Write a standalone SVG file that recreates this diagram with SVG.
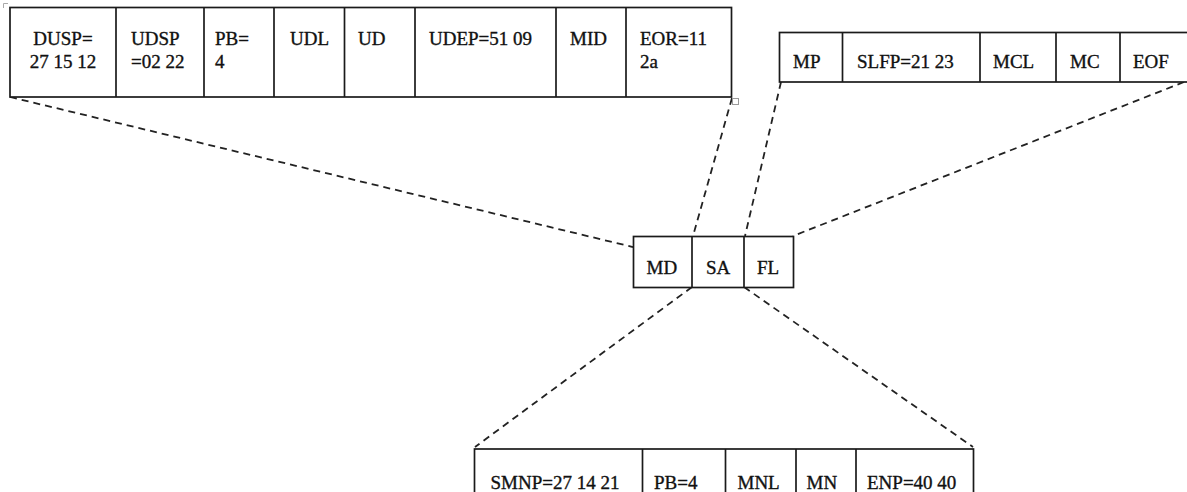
<svg xmlns="http://www.w3.org/2000/svg" width="1187" height="492" viewBox="0 0 1187 492">
<style>
.box{fill:#fff;stroke:#1a1a1a;stroke-width:1.7}
.div{stroke:#1a1a1a;stroke-width:1.7}
.t{font-family:'Liberation Serif','Times New Roman','DejaVu Serif',serif;font-size:19px;fill:#111;stroke:#111;stroke-width:0.35}
.dash{stroke:#222;stroke-width:1.8;stroke-dasharray:7 5;fill:none}
.handle{fill:#fff;stroke:#999;stroke-width:1}
</style>
<rect width="1187" height="492" fill="#fff"/>
<g id="connectors">
<line class="dash" x1="10" y1="97" x2="633" y2="247"/>
<line class="dash" x1="732" y1="98" x2="693" y2="236"/>
<line class="dash" x1="781" y1="82" x2="745" y2="236"/>
<line class="dash" x1="1184" y1="82" x2="793" y2="236"/>
<line class="dash" x1="692" y1="287" x2="475" y2="447"/>
<line class="dash" x1="744" y1="287" x2="973" y2="447"/>
</g>
<g id="top-left-table">
<rect class="box" x="10" y="7.5" width="721.5" height="89.5"/>
<line class="div" x1="116" y1="7.5" x2="116" y2="97"/>
<line class="div" x1="204" y1="7.5" x2="204" y2="97"/>
<line class="div" x1="274" y1="7.5" x2="274" y2="97"/>
<line class="div" x1="344.5" y1="7.5" x2="344.5" y2="97"/>
<line class="div" x1="415" y1="7.5" x2="415" y2="97"/>
<line class="div" x1="556" y1="7.5" x2="556" y2="97"/>
<line class="div" x1="626" y1="7.5" x2="626" y2="97"/>
<text class="t" x="63" y="45" text-anchor="middle">DUSP=</text>
<text class="t" x="63" y="68" text-anchor="middle">27 15 12</text>
<text class="t" x="131" y="45">UDSP</text>
<text class="t" x="131" y="68">=02 22</text>
<text class="t" x="215" y="45">PB=</text>
<text class="t" x="215" y="68">4</text>
<text class="t" x="290" y="45">UDL</text>
<text class="t" x="358" y="45">UD</text>
<text class="t" x="429" y="45">UDEP=51 09</text>
<text class="t" x="570" y="45">MID</text>
<text class="t" x="640" y="45">EOR=11</text>
<text class="t" x="640" y="68">2a</text>
<path d="M3.5 8 V3.5 H8" fill="none" stroke="#aaa" stroke-width="1"/>
<rect class="handle" x="732.5" y="98.5" width="6" height="6"/>
</g>
<g id="top-right-table">
<rect class="box" x="779.5" y="32.5" width="420" height="49.5"/>
<line class="div" x1="842.5" y1="32.5" x2="842.5" y2="82"/>
<line class="div" x1="980" y1="32.5" x2="980" y2="82"/>
<line class="div" x1="1056" y1="32.5" x2="1056" y2="82"/>
<line class="div" x1="1120" y1="32.5" x2="1120" y2="82"/>
<text class="t" x="793" y="68">MP</text>
<text class="t" x="857" y="68">SLFP=21 23</text>
<text class="t" x="993" y="68">MCL</text>
<text class="t" x="1070" y="68">MC</text>
<text class="t" x="1133" y="68">EOF</text>
</g>
<g id="middle-table">
<rect class="box" x="633.5" y="236.5" width="160" height="51"/>
<line class="div" x1="692" y1="236.5" x2="692" y2="287.5"/>
<line class="div" x1="744" y1="236.5" x2="744" y2="287.5"/>
<text class="t" x="646.5" y="274">MD</text>
<text class="t" x="706" y="274">SA</text>
<text class="t" x="757" y="274">FL</text>
</g>
<g id="bottom-table">
<rect class="box" x="474.5" y="449" width="499" height="60"/>
<line class="div" x1="642.5" y1="449" x2="642.5" y2="509"/>
<line class="div" x1="725.5" y1="449" x2="725.5" y2="509"/>
<line class="div" x1="796" y1="449" x2="796" y2="509"/>
<line class="div" x1="856" y1="449" x2="856" y2="509"/>
<text class="t" x="490.5" y="489">SMNP=27 14 21</text>
<text class="t" x="654" y="489">PB=4</text>
<text class="t" x="737.5" y="489">MNL</text>
<text class="t" x="806.5" y="489">MN</text>
<text class="t" x="867" y="489">ENP=40 40</text>
</g>
</svg>
